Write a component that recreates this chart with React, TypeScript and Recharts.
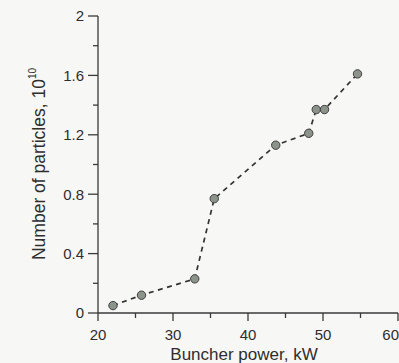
import { LineChart, Line, XAxis, YAxis, Label } from 'recharts'

const POWER = [22, 25.8, 32.9, 35.5, 43.7, 48.1, 49.1, 50.2, 54.6]
const PARTICLES = [0.05, 0.12, 0.23, 0.77, 1.13, 1.21, 1.37, 1.37, 1.61]

const X_TICKS = [20, 25, 30, 35, 40, 45, 50, 55, 60]
const Y_TICKS = [0, 0.2, 0.4, 0.6, 0.8, 1, 1.2, 1.4, 1.6, 1.8, 2]

const INK = '#2e2e2e'
const AXIS = '#3a3a3a'
const FONT = 'Liberation Sans, Arial, sans-serif'

const data = POWER.map((p, i) => ({ power: p, particles: PARTICLES[i] }))

function XTick(props: any) {
  const { x, y, payload, index } = props
  const major = payload.value % 10 === 0
  // last label sits on the right edge, keep it inside the frame
  const last = index === X_TICKS.length - 1
  return (
    <g>
      <line x1={x} y1={y} x2={x} y2={y + (major ? 8 : 5)} stroke={AXIS} strokeWidth={1.3} />
      {major && (
        <text
          x={last ? x + 1 : x}
          y={y + 27}
          textAnchor={last ? 'end' : 'middle'}
          fontSize={15}
          fill={INK}
          fontFamily={FONT}
        >
          {payload.value}
        </text>
      )}
    </g>
  )
}

function YTick(props: any) {
  const { x, y, payload } = props
  const major = Math.round(payload.value * 10) % 4 === 0
  return (
    <g>
      <line x1={x} y1={y} x2={x - (major ? 10 : 5)} y2={y} stroke={AXIS} strokeWidth={1.3} />
      {major && (
        <text x={x - 14} y={y} dy="0.36em" textAnchor="end" fontSize={15} fill={INK} fontFamily={FONT}>
          {payload.value}
        </text>
      )}
    </g>
  )
}

function Dot(props: any) {
  const { cx, cy, index } = props
  return <circle key={index} cx={cx} cy={cy} r={4.2} fill="#8b938b" stroke="#3e3e3e" strokeWidth={1} />
}

export default function App() {
  return (
    <div style={{ width: 399, height: 363, background: '#f7f7f5' }}>
      <style>{'body{margin:0;}'}</style>
      <LineChart width={399} height={363} data={data} margin={{ top: 16, right: 1, bottom: 0, left: 38 }}>
        <XAxis
          type="number"
          dataKey="power"
          domain={[20, 60]}
          ticks={X_TICKS}
          interval={0}
          height={50}
          tickSize={0}
          tickMargin={0}
          tickLine={false}
          tick={<XTick />}
          axisLine={{ stroke: AXIS, strokeWidth: 1.3 }}
        >
          <Label
            content={() => (
              <text x={244} y={360} textAnchor="middle" fontSize={17} fill={INK} fontFamily={FONT}>
                Buncher power, kW
              </text>
            )}
          />
        </XAxis>
        <YAxis
          type="number"
          domain={[0, 2]}
          ticks={Y_TICKS}
          interval={0}
          width={60}
          tickSize={0}
          tickMargin={0}
          tickLine={false}
          tick={<YTick />}
          axisLine={{ stroke: AXIS, strokeWidth: 1.3 }}
        >
          <Label
            content={() => (
              <text
                x={39}
                y={164}
                transform="rotate(-90, 39, 164)"
                textAnchor="middle"
                dominantBaseline="central"
                fontSize={17.5}
                fill={INK}
                fontFamily={FONT}
              >
                Number of particles, 10
                <tspan dy={-7} fontSize={10}>10</tspan>
              </text>
            )}
          />
        </YAxis>
        <Line
          type="linear"
          dataKey="particles"
          stroke="#333"
          strokeWidth={1.7}
          strokeDasharray="5 4.5"
          dot={<Dot />}
          activeDot={false}
          isAnimationActive={false}
        />
      </LineChart>
    </div>
  )
}
